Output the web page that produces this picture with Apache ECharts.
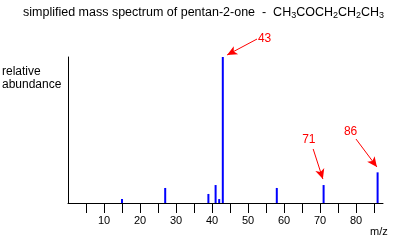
<!DOCTYPE html>
<html><head><meta charset="utf-8">
<script src="https://cdn.jsdelivr.net/npm/echarts@6/dist/echarts.min.js"></script>
<style>html,body{margin:0;padding:0;background:#fff}#c{width:393px;height:242px}</style>
</head><body><div id="c"></div>
<script>
// m/z values of the peaks and their relative abundance (%)
const mz = [15, 27, 39, 41, 42, 43, 58, 71, 86];
const abundance = [2.7, 10.3, 6.2, 12.3, 2.7, 100, 10.3, 12.3, 21];
// x axis ticks and labels
const tickValues = [5, 10, 15, 20, 25, 30, 35, 40, 45, 50, 55, 60, 65, 70, 75, 80, 85];
const labelValues = [10, 20, 30, 40, 50, 60, 70, 80];
// annotated peaks (text, text anchor in data coords, arrow start, arrow tip)
const annotText = ['43', '71', '86'];
const annotTextAt = [[54.6, 112.3], [66.9, 43.2], [78.5, 48.6]];
const arrowFrom = [[52.5, 112.3], [68.1, 37.0], [80.0, 43.8]];
const arrowTo = [[44.2, 101.4], [70.8, 16.4], [85.8, 24.7]];

const FONT = '"Liberation Sans", Arial, sans-serif';
const chart = echarts.init(document.getElementById('c'), null, {renderer: 'canvas'});
const hiddenAxis = {show: false};
chart.setOption({
  animation: false,
  backgroundColor: '#fff',
  title: {
    left: 23, top: 5, padding: 0,
    text: 'simplified mass spectrum of pentan-2-one  -  CH{s|3}COCH{s|2}CH{s|2}CH{s|3}',
    textStyle: {
      fontFamily: FONT, fontSize: 12.5, fontWeight: 'normal', color: '#000',
      rich: {s: {fontFamily: FONT, fontSize: 9, color: '#000', verticalAlign: 'bottom', padding: [6, 0, 0, 0]}}
    }
  },
  graphic: [
    {type: 'text', left: 2, top: 65, style: {text: 'relative\nabundance', font: '12px ' + FONT, lineHeight: 13, fill: '#000'}},
    {type: 'text', left: 370, top: 226, style: {text: 'm/z', font: '11px ' + FONT, fill: '#000'}}
  ],
  grid: [
    {left: 68, right: 10, top: 57, bottom: 39, containLabel: false},
    {left: 68, right: 10, top: 20.5, bottom: 39, containLabel: false}
  ],
  xAxis: [{
    type: 'value', min: 0, max: 87.5, gridIndex: 0,
    axisLine: {show: true, lineStyle: {color: '#000', width: 1}},
    axisTick: {show: true, inside: false, length: 10, customValues: tickValues, lineStyle: {color: '#000'}},
    axisLabel: {show: true, customValues: labelValues, margin: 12, color: '#000', fontFamily: FONT, fontSize: 11},
    splitLine: {show: false}
  }, {
    type: 'value', min: 0, max: 87.5, gridIndex: 1, show: false
  }],
  yAxis: [{
    type: 'value', min: 0, max: 100, gridIndex: 0,
    axisLine: {show: true, lineStyle: {color: '#000', width: 1}},
    axisTick: {show: false}, axisLabel: {show: false}, splitLine: {show: false}
  }, {
    type: 'value', min: 0, max: 125, gridIndex: 1, show: false
  }],
  series: [{
    type: 'bar',
    xAxisIndex: 0, yAxisIndex: 0,
    barWidth: 2,
    itemStyle: {color: '#0000ff'},
    data: mz.map((m, i) => [m, abundance[i]]),
    silent: true
  }, {
    type: 'line',
    xAxisIndex: 1, yAxisIndex: 1,
    data: [],
    silent: true,
    markLine: {
      silent: true,
      symbol: ['none', 'arrow'],
      symbolSize: [7, 10],
      lineStyle: {color: '#ff0000', width: 1, type: 'solid'},
      label: {show: false},
      emphasis: {disabled: true},
      data: arrowFrom.map((f, i) => [{coord: f}, {coord: arrowTo[i]}])
    },
    markPoint: {
      silent: true,
      symbol: 'circle', symbolSize: 0,
      label: {show: true, position: 'inside', color: '#ff0000', fontFamily: FONT, fontSize: 12},
      data: annotText.map((t, i) => ({coord: annotTextAt[i], value: t, label: {formatter: t}}))
    }
  }]
});
</script></body></html>
